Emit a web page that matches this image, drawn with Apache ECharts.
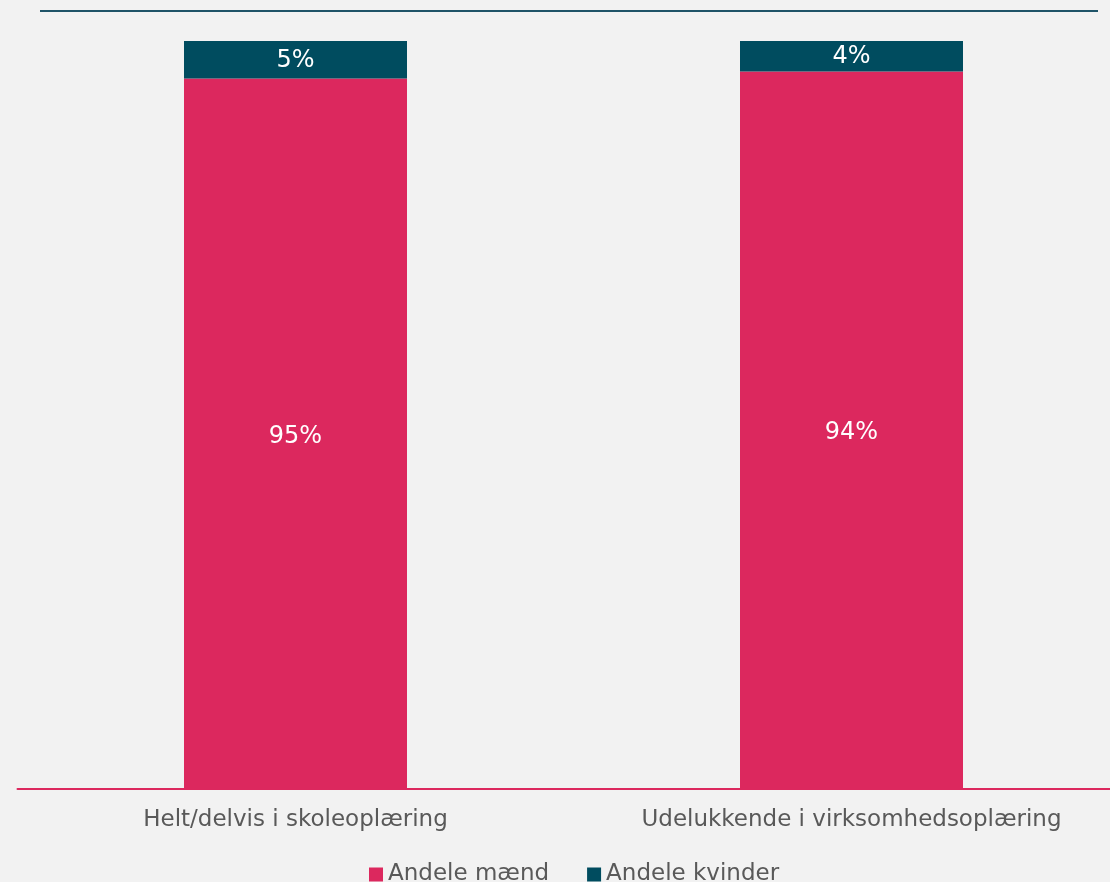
<!DOCTYPE html>
<html><head><meta charset="utf-8">
<script src="https://cdn.jsdelivr.net/npm/echarts@6/dist/echarts.min.js"></script>
<style>html,body{margin:0;padding:0;background:#f2f2f2}#c{width:1110px;height:882px}</style>
</head><body><div id="c"></div>
<script>
const categories = ['Helt/delvis i skoleoplæring', 'Udelukkende i virksomhedsoplæring'];
const seriesNames = ['Andele mænd', 'Andele kvinder'];
const men = [95, 94];
const women = [5, 4];
// 100% stacked: share of each bar
const menShare = men.map((v, i) => v / (v + women[i]) * 100);
const womenShare = women.map((v, i) => v / (men[i] + v) * 100);

const chart = echarts.init(document.getElementById('c'));
const font = 'DejaVu Sans';
chart.setOption({
  backgroundColor: '#f2f2f2',
  animation: false,
  grid: { left: 17.5, width: 1112, top: 41, bottom: 93, containLabel: false, outerBoundsMode: 'none' },
  legend: {
    bottom: -9, left: 364, itemWidth: 14, itemHeight: 14, itemGap: 38,
    icon: 'rect',
    textStyle: { fontFamily: font, fontSize: 23, color: '#595959', padding: [0,0,0,0] },
    data: seriesNames
  },
  xAxis: {
    type: 'category', data: categories,
    axisLine: { lineStyle: { color: '#dc285e', width: 2 } },
    axisTick: { show: false },
    axisLabel: { fontFamily: font, fontSize: 23, color: '#595959', margin: 20, interval: 0 }
  },
  yAxis: { type: 'value', min: 0, max: 100, show: false, splitLine: { show: false } },
  series: [
    {
      name: seriesNames[0], type: 'bar', stack: 'a', barWidth: 223,
      data: menShare, itemStyle: { color: '#dc285e' },
      label: { show: true, position: 'inside', color: '#ffffff', fontFamily: font, fontSize: 24,
        offset: [0, 3], formatter: p => men[p.dataIndex] + '%' }
    },
    {
      name: seriesNames[1], type: 'bar', stack: 'a', barWidth: 223,
      data: womenShare, itemStyle: { color: '#004c5f' },
      label: { show: true, position: 'inside', color: '#ffffff', fontFamily: font, fontSize: 24,
        offset: [0, 1], formatter: p => women[p.dataIndex] + '%' }
    }
  ],
  graphic: [{
    type: 'line', shape: { x1: 40, y1: 11, x2: 1098, y2: 11 },
    style: { stroke: '#1f5468', lineWidth: 2 }
  }]
});
</script></body></html>
